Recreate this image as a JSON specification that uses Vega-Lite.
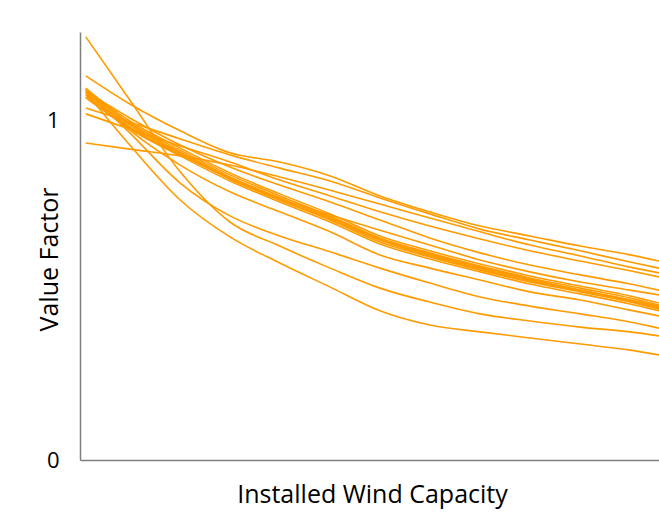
{
  "$schema": "https://vega.github.io/schema/vega-lite/v6.json",
  "width": 579,
  "height": 428,
  "autosize": "none",
  "padding": {"left": 80, "top": 32, "right": 0, "bottom": 56},
  "background": "white",
  "datasets": {
    "wide": [
      {"s": "U1", "v": [1.133, 1.050, 0.971, 0.906, 0.879, 0.838, 0.779, 0.732, 0.690, 0.661, 0.631, 0.605, 0.587]},
      {"s": "U2", "v": [1.038, 0.997, 0.947, 0.900, 0.861, 0.823, 0.773, 0.726, 0.681, 0.649, 0.617, 0.584, 0.566]},
      {"s": "U3", "v": [0.935, 0.917, 0.897, 0.870, 0.835, 0.796, 0.755, 0.714, 0.673, 0.634, 0.602, 0.569, 0.552]},
      {"s": "U4", "v": [1.021, 0.976, 0.926, 0.879, 0.826, 0.779, 0.732, 0.690, 0.652, 0.617, 0.587, 0.558, 0.540]},
      {"s": "M1", "v": [1.088, 1.009, 0.929, 0.864, 0.811, 0.761, 0.708, 0.655, 0.611, 0.575, 0.546, 0.519, 0.501]},
      {"s": "M2", "v": [1.077, 0.982, 0.900, 0.832, 0.770, 0.723, 0.678, 0.634, 0.590, 0.555, 0.525, 0.501, 0.487]},
      {"s": "C",  "v": [1.083, 0.988, 0.909, 0.835, 0.773, 0.714, 0.649, 0.605, 0.566, 0.531, 0.501, 0.472, 0.451]},
      {"s": "B1", "v": [1.094, 1.000, 0.920, 0.847, 0.785, 0.726, 0.661, 0.617, 0.578, 0.543, 0.513, 0.484, 0.463]},
      {"s": "B2", "v": [1.088, 0.994, 0.914, 0.841, 0.779, 0.720, 0.655, 0.611, 0.572, 0.537, 0.507, 0.478, 0.457]},
      {"s": "B4", "v": [1.077, 0.982, 0.903, 0.829, 0.767, 0.708, 0.643, 0.599, 0.560, 0.525, 0.496, 0.466, 0.445]},
      {"s": "B5", "v": [1.071, 0.976, 0.897, 0.823, 0.761, 0.702, 0.637, 0.593, 0.555, 0.519, 0.490, 0.460, 0.440]},
      {"s": "B6", "v": [1.097, 0.991, 0.906, 0.829, 0.767, 0.711, 0.649, 0.602, 0.563, 0.528, 0.499, 0.469, 0.448]},
      {"s": "B7", "v": [1.068, 0.979, 0.903, 0.832, 0.773, 0.717, 0.652, 0.608, 0.569, 0.534, 0.501, 0.472, 0.454]},
      {"s": "L0", "v": [1.094, 0.973, 0.870, 0.791, 0.732, 0.673, 0.605, 0.566, 0.531, 0.496, 0.472, 0.442, 0.425]},
      {"s": "L1", "v": [1.091, 0.965, 0.817, 0.720, 0.661, 0.614, 0.566, 0.522, 0.481, 0.454, 0.431, 0.407, 0.389]},
      {"s": "L2", "v": [1.248, 1.062, 0.850, 0.702, 0.631, 0.566, 0.507, 0.466, 0.431, 0.410, 0.392, 0.378, 0.366]},
      {"s": "L3", "v": [1.085, 0.929, 0.767, 0.658, 0.581, 0.510, 0.440, 0.398, 0.378, 0.360, 0.342, 0.324, 0.310]}
    ]
  },
  "data": {"name": "wide"},
  "transform": [
    {"flatten": ["v"], "as": ["val"]},
    {"window": [{"op": "row_number", "as": "i"}], "groupby": ["s"]},
    {"lookup": "i", "from": {"data": {"values": [
      {"i": 1, "x": 1}, {"i": 2, "x": 8.6}, {"i": 3, "x": 17.3}, {"i": 4, "x": 25.9},
      {"i": 5, "x": 34.5}, {"i": 6, "x": 43.2}, {"i": 7, "x": 51.8}, {"i": 8, "x": 60.4},
      {"i": 9, "x": 69.1}, {"i": 10, "x": 77.7}, {"i": 11, "x": 86.4}, {"i": 12, "x": 95},
      {"i": 13, "x": 100}
    ]}, "key": "i", "fields": ["x"]}}
  ],
  "mark": {"type": "line", "color": "#FF9B00", "strokeWidth": 1.6, "interpolate": "monotone", "clip": true},
  "encoding": {
    "x": {
      "field": "x", "type": "quantitative",
      "scale": {"domain": [0, 100], "nice": false, "zero": false},
      "axis": {
        "title": "Installed Wind Capacity",
        "labels": false, "ticks": false, "grid": false,
        "domainColor": "#7F7F7F", "domainWidth": 1.5,
        "titleFont": "Open Sans", "titleFontSize": 25, "titleFontWeight": "normal", "titleColor": "#000000",
        "titleBaseline": "middle", "titleY": 34, "titleX": 292
      }
    },
    "y": {
      "field": "val", "type": "quantitative",
      "scale": {"domain": [0, 1.2625], "nice": false},
      "axis": {
        "title": "Value Factor",
        "values": [0, 1], "format": "d", "ticks": false, "grid": false,
        "domainColor": "#7F7F7F", "domainWidth": 1.5,
        "labelFont": "Open Sans", "labelFontSize": 22, "labelColor": "#000000", "labelPadding": 21,
        "titleFont": "Open Sans", "titleFontSize": 25, "titleFontWeight": "normal", "titleColor": "#000000",
        "titleAngle": -90, "titleBaseline": "middle", "titleAlign": "center", "titleX": -31, "titleY": 227
      }
    },
    "detail": {"field": "s"}
  },
  "config": {"view": {"stroke": null}}
}
